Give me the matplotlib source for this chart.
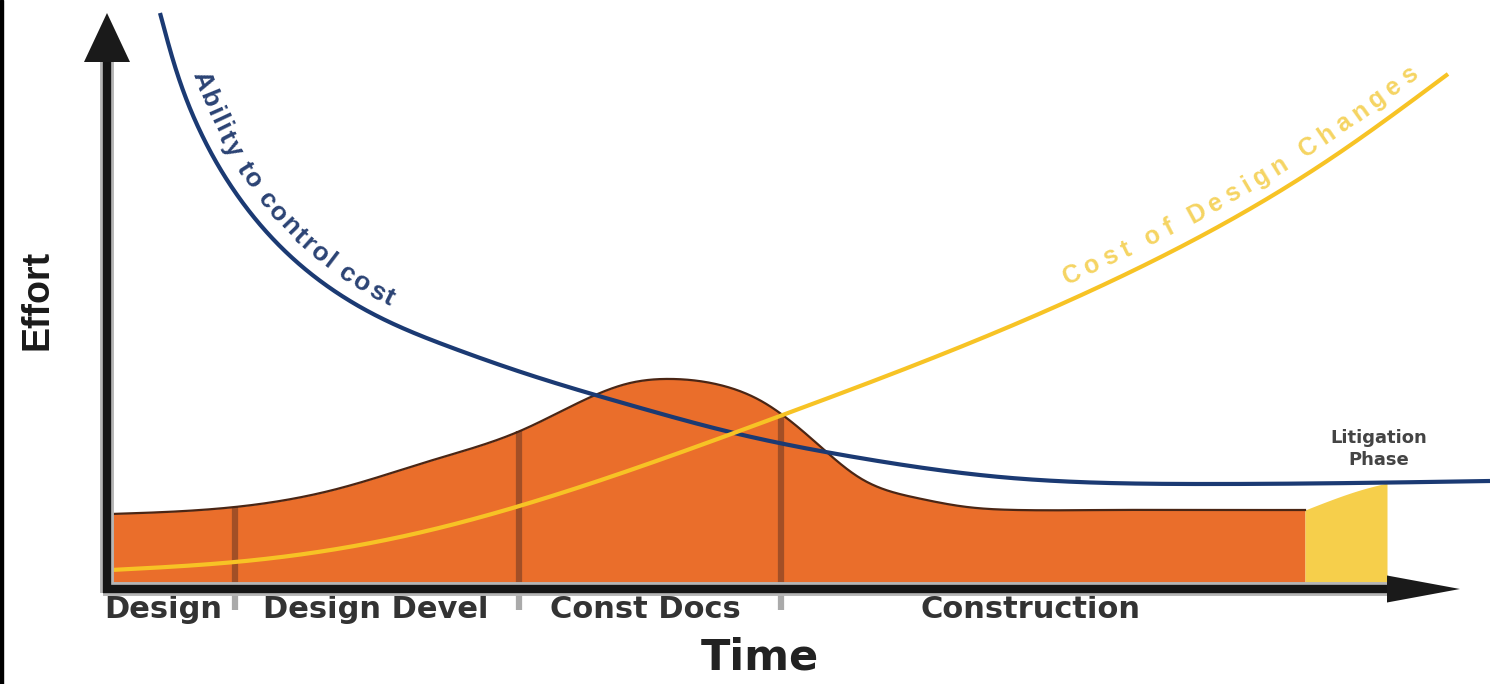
import numpy as np
import matplotlib.pyplot as plt
from matplotlib.font_manager import FontProperties

# time axis: project phases
phase_names = ['Design', 'Design Devel', 'Const Docs', 'Construction']
phase_edges = [128, 412, 674]
phase_mid = [56, 269, 538, 924]

# effort spent over time (orange area)
effort_t = [4, 128, 226, 326, 413, 473, 523, 566, 613, 656, 706, 753, 810, 860, 910, 1000, 1100, 1198]
effort_v = [75, 82, 99, 129, 158, 187, 206, 210, 204, 187, 149, 111, 91, 82, 79, 79, 79, 79]

# litigation phase tail
litig_t = [1198, 1260, 1280]
litig_v = [79, 101, 106]

# ability to control cost
ability_t = [53, 66, 93, 126, 166, 216, 276, 343, 423, 523, 623, 753, 893, 1093, 1383]
ability_v = [576, 529, 458, 400, 350, 306, 270, 242, 214, 184, 157, 131, 112, 105, 108]

# cost of design changes
change_t = [4, 128, 293, 473, 673, 813, 1013, 1226, 1341]
change_v = [19, 27, 52, 102, 173, 226, 312, 432, 515]


def spline(x, y, xn):
    # natural cubic spline through the knots
    x = np.asarray(x, float)
    y = np.asarray(y, float)
    n = len(x)
    h = np.diff(x)
    A = np.zeros((n, n))
    r = np.zeros(n)
    A[0, 0] = A[-1, -1] = 1
    for i in range(1, n - 1):
        A[i, i - 1] = h[i - 1]
        A[i, i] = 2 * (h[i - 1] + h[i])
        A[i, i + 1] = h[i]
        r[i] = 3 * ((y[i + 1] - y[i]) / h[i] - (y[i] - y[i - 1]) / h[i - 1])
    c = np.linalg.solve(A, r)
    b = np.diff(y) / h - h * (2 * c[:-1] + c[1:]) / 3
    d = np.diff(c) / (3 * h)
    i = np.clip(np.searchsorted(x, xn) - 1, 0, n - 2)
    dx = xn - x[i]
    return y[i] + b[i] * dx + c[i] * dx**2 + d[i] * dx**3


def text_along(ax, T, V, s, t0, t1, offset, fp, color):
    # lay characters one by one along a curve, offset to its left side
    rend = ax.figure.canvas.get_renderer()
    pts = ax.transData.transform(np.column_stack([T, V]))
    g = np.gradient(pts, axis=0)
    g /= np.hypot(g[:, 0], g[:, 1])[:, None]
    nrm = np.column_stack([-g[:, 1], g[:, 0]])
    off = pts + offset * nrm
    go = np.gradient(off, axis=0)
    ang = np.degrees(np.arctan2(go[:, 1], go[:, 0]))
    arc = np.concatenate([[0], np.cumsum(np.hypot(*np.diff(off, axis=0).T))])
    s0 = np.interp(t0, T, arc)
    s1 = np.interp(t1, T, arc)

    def wid(txt):
        return rend.get_text_width_height_descent(txt, fp, ismath=False)[0]

    adv = np.array([wid('x' + ch + 'x') - wid('xx') for ch in s])
    track = (s1 - s0 - adv.sum()) / (len(s) - 1)
    centers = s0 + np.cumsum(adv) - adv / 2 + np.arange(len(s)) * track
    inv = ax.transData.inverted()
    for ch, c in zip(s, centers):
        px = np.interp(c, arc, off[:, 0])
        py = np.interp(c, arc, off[:, 1])
        a = np.interp(c, arc, ang)
        dx, dy = inv.transform((px, py))
        ax.text(dx, dy, ch, rotation=a, rotation_mode='anchor', ha='center',
                va='baseline', fontproperties=fp, color=color, zorder=8)


fig = plt.figure(figsize=(14.9, 6.84), dpi=100)
ax = fig.add_axes([0, 0, 1, 1])
ax.set_xlim(-107, 1383)
ax.set_ylim(-95, 589)
ax.axis('off')

orange = '#ea6e2b'
navy = '#1b3a73'
gold = '#f7c325'

# effort area
et = np.linspace(effort_t[0], effort_t[-1], 1200)
ev = spline(effort_t, effort_v, et)
ax.fill_between(et, 0, ev, color=orange, lw=0, zorder=1)
ax.plot(et, ev, color='#4a2615', lw=1.6, zorder=3)

lt = np.linspace(litig_t[0], litig_t[-1], 100)
ax.fill_between(lt, 0, spline(litig_t, litig_v, lt), color='#f6cf4b', lw=0, zorder=1)

# phase dividers
for t in phase_edges:
    top = spline(effort_t, effort_v, np.array([t]))[0]
    ax.plot([t, t], [0, top], color='#a24f26', lw=4.5, zorder=2, solid_capstyle='butt')
    ax.plot([t, t], [-21, -4], color='#aaaaaa', lw=4.5, zorder=2, solid_capstyle='butt')

# cost curves
at = np.linspace(ability_t[0], ability_t[-1], 3000)
av = spline(ability_t, ability_v, at)
ax.plot(at, av, color=navy, lw=3.0, zorder=4, solid_capstyle='butt')

ct = np.linspace(change_t[0], change_t[-1], 2000)
cv = spline(change_t, change_v, ct)
ax.plot(ct, cv, color=gold, lw=3.0, zorder=5, solid_capstyle='butt')

# axes with arrow heads
ax.plot([0, 0], [-4, 527], color='#b5b5b5', lw=10, zorder=6, solid_capstyle='butt')
ax.plot([-4, 1280], [0, 0], color='#b5b5b5', lw=10, zorder=6, solid_capstyle='butt')
ax.plot([0, 0], [-4, 527], color='#151515', lw=6, zorder=7, solid_capstyle='butt')
ax.plot([-4, 1280], [0, 0], color='#151515', lw=6, zorder=7, solid_capstyle='butt')
ax.fill([-23, 23, 0], [527, 527, 576], color='#1a1a1a', lw=0, zorder=7)
ax.fill([1280, 1280, 1353], [13.5, -13.5, 0], color='#1a1a1a', lw=0, zorder=7)
ax.axvspan(-107, -104, color='black', zorder=9)

# labels
for name, t in zip(phase_names, phase_mid):
    ax.text(t, -21, name, ha='center', va='center', fontsize=22,
            fontweight='bold', family='DejaVu Sans', color='#333333')
ax.text(653, -69, 'Time', ha='center', va='center', fontsize=31,
        fontweight='bold', family='DejaVu Sans', color='#222222')
ax.text(-69, 289, 'Effort', ha='center', va='center', rotation=90, fontsize=27,
        fontweight='bold', family='Liberation Sans', color='#1a1a1a')
ax.text(1272, 140, 'Litigation\nPhase', ha='center', va='center', fontsize=13,
        fontweight='bold', family='DejaVu Sans', color='#444444', linespacing=1.25)

fp_a = FontProperties(family='Liberation Sans', weight='bold', size=19)
text_along(ax, at, av, 'Ability to control cost', 72, 276, 14, fp_a, '#2b4374')
fp_c = FontProperties(family='Liberation Sans', weight='bold', size=18)
text_along(ax, ct, cv, 'Cost of Design Changes', 966, 1321, 15, fp_c, '#f5d462')

fig.savefig('out.png', dpi=100)
